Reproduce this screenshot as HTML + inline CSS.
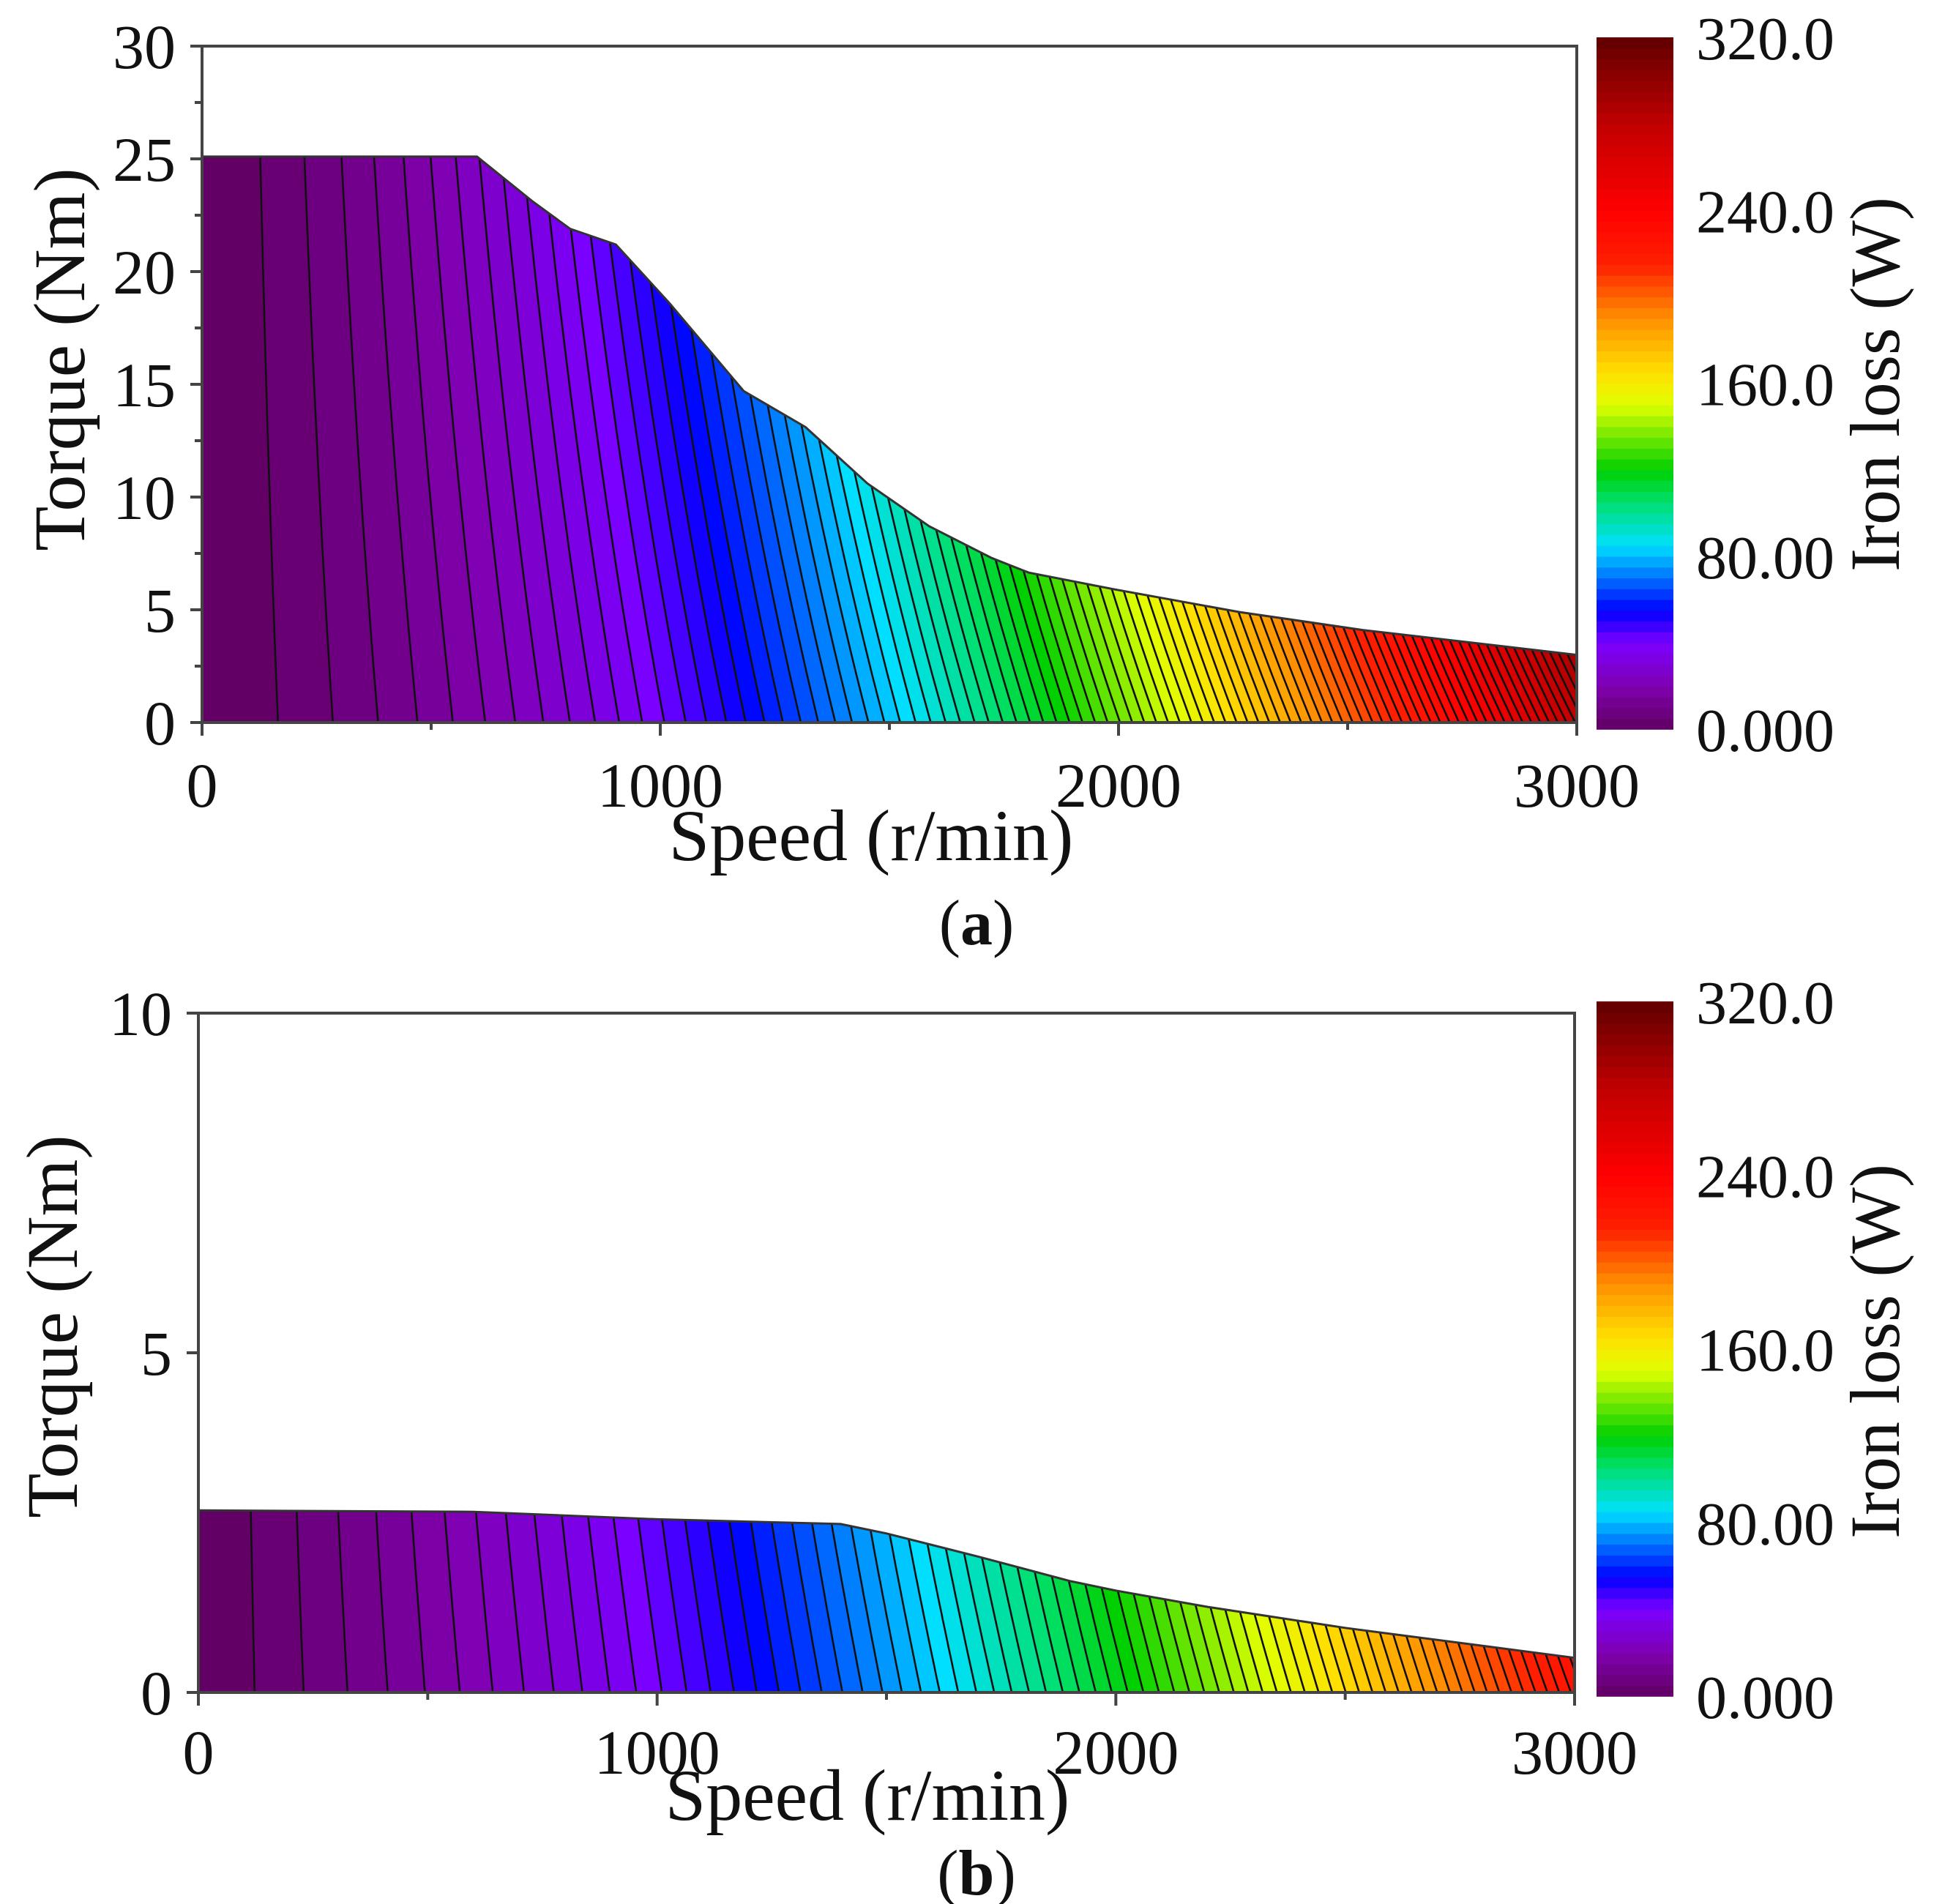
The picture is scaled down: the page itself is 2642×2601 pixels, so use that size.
<!DOCTYPE html>
<html><head><meta charset="utf-8">
<style>
html,body{margin:0;padding:0;background:#fff;}
svg{display:block;}
text{font-family:"Liberation Serif",serif;fill:#111;}
</style></head>
<body>
<svg id="chart" width="2642" height="2601" viewBox="0 0 2642 2601" xmlns="http://www.w3.org/2000/svg">
<defs id="defs"></defs>
</svg>
<script>
// ---- data ----
const speedTicks = [0, 1000, 2000, 3000];
const torqueTicksA = [0, 5, 10, 15, 20, 25, 30];
const torqueTicksB = [0, 5, 10];
const colorbarLabels = ["0.000", "80.00", "160.0", "240.0", "320.0"];
const colorbarValues = [0, 80, 160, 240, 320];
// max-torque envelope (a)
const envSpeedA = [0, 600, 722, 803, 903, 1020, 1182, 1317, 1452, 1587, 1723, 1804, 1993, 2264, 2534, 3000];
const envTorqueA = [25.1, 25.1, 23.1, 21.9, 21.2, 18.6, 14.7, 13.1, 10.6, 8.7, 7.3, 6.65, 5.9, 4.9, 4.1, 3.0];
// max-torque envelope (b)
const envSpeedB = [0, 600, 1000, 1400, 1500, 1700, 1900, 2000, 2200, 2500, 3000];
const envTorqueB = [2.68, 2.66, 2.55, 2.48, 2.34, 2.0, 1.64, 1.5, 1.26, 0.95, 0.51];
// iron-loss model coefficients estimated from the contour spacing: P = (a*n + b*n^2)*(1 + c*T)
const lossCoefA = [0.015, 2.6e-5, 0.015];
const lossCoefB = [0.024, 1.7e-5, 0.03];
const levelStepA = [3.2];
const levelStepB = [3.2];
// colormap stops (W -> colour)
const cmapVals = [0, 20, 40, 55, 70, 85, 105, 120, 150, 165, 190, 215, 240, 280, 320];
const cmapCols = ["#600060","#8000b0","#7a00ff","#0000ff","#0070ff","#00e0ff","#00e070","#00d000","#e0ff00","#ffe000","#ff9000","#ff2000","#ff0000","#c00000","#600000"];

const NS = "http://www.w3.org/2000/svg";
const svg = document.getElementById('chart');
const defs = document.getElementById('defs');
function mk(tag, attrs, parent){const e=document.createElementNS(NS,tag);for(const k in attrs)e.setAttribute(k,attrs[k]);(parent||svg).appendChild(e);return e;}
function hex(c){return [parseInt(c.substr(1,2),16),parseInt(c.substr(3,2),16),parseInt(c.substr(5,2),16)];}
function cmap(v){
  if(v<=cmapVals[0])return cmapCols[0];
  for(let i=1;i<cmapVals.length;i++){
    if(v<=cmapVals[i]){const t=(v-cmapVals[i-1])/(cmapVals[i]-cmapVals[i-1]);const a=hex(cmapCols[i-1]),b=hex(cmapCols[i]);
      return 'rgb('+a.map((x,j)=>Math.round(x+(b[j]-x)*t)).join(',')+')';}
  }
  return cmapCols[cmapCols.length-1];
}

function drawPanel(cfg){
  const g = mk('g',{});
  
  
  const X = s => cfg.x0 + (s/3000)*(cfg.x1-cfg.x0);
  const Y = t => cfg.y0 - (t/cfg.tmax)*(cfg.y0-cfg.y1);
  const cp = mk('clipPath',{id:cfg.id+'-clip'},defs);
  let pts = [[X(0),Y(0)]];
  cfg.envS.forEach((s,i)=>pts.push([X(s),Y(cfg.envT[i])]));
  pts.push([X(3000),Y(0)]);
  const ptsStr = pts.map(p=>p[0].toFixed(1)+','+p[1].toFixed(1)).join(' ');
  mk('polygon',{points:ptsStr},cp);
  const cg = mk('g',{'clip-path':'url(#'+cfg.id+'-clip)'},g);
  
  
  const [a,b,c] = cfg.coef;
  const tTop = Math.max(...cfg.envT)+0.5;
  const loss = (n,T)=> (a*n+b*n*n)*(1+c*T);
  const solveN = (L,T)=>{const q=L/(1+c*T);return (-a+Math.sqrt(a*a+4*b*q))/(2*b);};
  const maxL = loss(3000,tTop);
  const levels=[];
  for(let L=cfg.step;L<maxL;L+=cfg.step)levels.push(L);
  const bg = mk('rect',{x:X(0),y:Y(tTop),width:X(3000)-X(0),height:Y(0)-Y(tTop),fill:cmap(levels[levels.length-1]+cfg.step/2)},cg);
  
  
  const nT=24;
  const linePts = L=>{const arr=[];for(let k=0;k<=nT;k++){const T=tTop*k/nT;arr.push([X(Math.min(solveN(L,T),3200)),Y(T)]);}return arr;};
  for(let i=levels.length-1;i>=0;i--){
    const lp = linePts(levels[i]);
    const poly = [[X(0),Y(0)],...lp,[X(0),Y(tTop)]];
    const p = mk('polygon',{points:poly.map(q=>q[0].toFixed(1)+','+q[1].toFixed(1)).join(' '),fill:cmap(levels[i]-cfg.step/2)},cg);
    
    
  }
  levels.forEach(L=>{
    const lp = linePts(L);
    const pl = mk('polyline',{points:lp.map(q=>q[0].toFixed(1)+','+q[1].toFixed(1)).join(' '),fill:'none',stroke:'#111','stroke-width':2.6},cg);
    
    
  });
  const env = mk('polyline',{points:pts.slice(0,-1).map(p=>p[0].toFixed(1)+','+p[1].toFixed(1)).join(' '),fill:'none',stroke:'#333','stroke-width':3},g);
  
  
  const fr = mk('rect',{x:cfg.x0,y:cfg.y1,width:cfg.x1-cfg.x0,height:cfg.y0-cfg.y1,fill:'none',stroke:'#444','stroke-width':4},g);
  
  
  cfg.yTicks.forEach(t=>{
    const ln=mk('line',{x1:cfg.x0-16,x2:cfg.x0,y1:Y(t),y2:Y(t),stroke:'#444','stroke-width':4},g);
    
    
    const tx=mk('text',{x:cfg.x0-36,y:Y(t)+30,'text-anchor':'end','font-size':86},g);
    tx.textContent=String(t);
    
    
  });
  if(cfg.minorY){for(let t=cfg.minorY;t<cfg.tmax;t+=cfg.minorY*2){
    const ln=mk('line',{x1:cfg.x0-10,x2:cfg.x0,y1:Y(t),y2:Y(t),stroke:'#444','stroke-width':4},g);
    
    }}
  speedTicks.forEach(s=>{
    const ln=mk('line',{x1:X(s),x2:X(s),y1:cfg.y0,y2:cfg.y0+18,stroke:'#444','stroke-width':4},g);
    
    
    const tx=mk('text',{x:X(s),y:cfg.xLabY,'text-anchor':'middle','font-size':86},g);
    tx.textContent=String(s);
    
    
  });
  [500,1500,2500].forEach(s=>{
    const ln=mk('line',{x1:X(s),x2:X(s),y1:cfg.y0,y2:cfg.y0+10,stroke:'#444','stroke-width':4},g);
    
    
  });
  const xt=mk('text',{x:cfg.xTitleX,y:cfg.xTitleY,'text-anchor':'middle','font-size':100},g);
  xt.textContent='Speed (r/min)';
  
  
  const yt=mk('text',{x:0,y:0,'text-anchor':'middle','font-size':100,transform:'translate('+cfg.yTitleX+','+cfg.yTitleY+') rotate(-90)'},g);
  yt.textContent='Torque (Nm)';
  
  
  const cb = mk('g',{},g);
  
  
  const nS=64, h=(cfg.cbB-cfg.cbT)/nS;
  for(let k=0;k<nS;k++){
    const v=(k+0.5)/nS*320;
    const r=mk('rect',{x:2181,y:(cfg.cbB-(k+1)*h).toFixed(2),width:105,height:(h+0.8).toFixed(2),fill:cmap(v)},cb);
    
    
  }
  colorbarValues.forEach((v,i)=>{
    const y=cfg.cbB-(v/320)*(cfg.cbB-cfg.cbT);
    const tx=mk('text',{x:2317,y:y+30,'font-size':84},cb);
    tx.textContent=colorbarLabels[i];
    
    
  });
  const ct=mk('text',{x:0,y:0,'text-anchor':'middle','font-size':96,transform:'translate('+2594+','+cfg.cbTitleY+') rotate(-90)'},cb);
  ct.textContent='Iron loss (W)';
  
  
  const cap=mk('text',{x:cfg.capX,y:cfg.capY,'text-anchor':'middle','font-size':88},g);
  cap.appendChild(document.createTextNode('('));
  const ts=mk('tspan',{'font-weight':'bold'},cap);
  ts.textContent=cfg.cap;
  cap.appendChild(document.createTextNode(')'));
  
  
}

drawPanel({id:'pa',name:'panel-a',x0:276,x1:2154,y0:987,y1:63,tmax:30,envS:envSpeedA,envT:envTorqueA,coef:lossCoefA,step:levelStepA[0],
  yTicks:torqueTicksA,minorY:2.5,xLabY:1102,xTitleX:1190,xTitleY:1175,yTitleX:115,yTitleY:491,cbT:51,cbB:996,cbTitleY:525,cap:'a',capX:1334,capY:1290});
drawPanel({id:'pb',name:'panel-b',x0:271,x1:2151,y0:2312,y1:1384,tmax:10,envS:envSpeedB,envT:envTorqueB,coef:lossCoefB,step:levelStepB[0],
  yTicks:torqueTicksB,minorY:0,xLabY:2423,xTitleX:1185,xTitleY:2486,yTitleX:105,yTitleY:1812,cbT:1368,cbB:2317,cbTitleY:1846,cap:'b',capX:1334,capY:2588});
</script>
</body></html>
